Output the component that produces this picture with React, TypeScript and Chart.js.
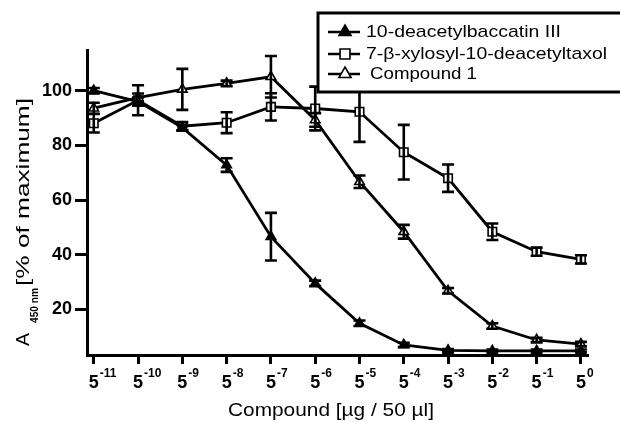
import React, { useEffect, useRef } from "react";
import { Chart, registerables } from "chart.js";

Chart.register(...registerables);

// ---- data ----
const exponents = [-11, -10, -9, -8, -7, -6, -5, -4, -3, -2, -1, 0];
const tickBase = "5";
const tickExps = ["-11", "-10", "-9", "-8", "-7", "-6", "-5", "-4", "-3", "-2", "-1", "0"];
const yTicks = [20, 40, 60, 80, 100];

const seriesNames = ["10-deacetylbaccatin III", "7-β-xylosyl-10-deacetyltaxol", "Compound 1"];

const baccatin = [100, 96, 86.5, 72.8, 46.6, 29.5, 14.9, 7.0, 5.0, 4.8, 4.8, 4.8];
const baccatinErr = [1, 1.5, 1, 2.5, 8.7, 1, 1, 0.8, 0.5, 0.5, 0.5, 0.5];

const xylosyl = [88.1, 96.5, 87, 88.3, 94.1, 93.5, 92.3, 77.5, 68.0, 48.4, 41.1, 38.3];
const xylosylErr = [3.4, 5.5, 1.5, 3.8, 5, 8, 11, 10, 5, 3, 1.5, 1.5];

const compound1 = [93.6, 97.5, 100.5, 102.7, 105.1, 89.3, 66.7, 48.4, 26.8, 13.9, 8.8, 7.3];
const compound1Err = [2, 1.5, 7.5, 1, 7.6, 2.5, 2.3, 2.5, 1, 1, 0.8, 0.8];

const xTitle = "Compound [µg / 50 µl]";
const yTitleMain = "A";
const yTitleSub = "450 nm";
const yTitleRest = "[% of maximum]";

const FONT = "'Liberation Sans', Arial, Helvetica, sans-serif";

function stretchText(
  ctx: CanvasRenderingContext2D,
  text: string,
  x: number,
  y: number,
  font: string,
  target?: number
) {
  ctx.save();
  ctx.font = font;
  const w = ctx.measureText(text).width;
  const sx = target ? target / w : 1;
  ctx.translate(x, y);
  ctx.scale(sx, 1);
  ctx.fillText(text, 0, 0);
  ctx.restore();
}

function drawMarker(ctx: CanvasRenderingContext2D, style: string, x: number, y: number, r: number, filled: boolean) {
  ctx.save();
  ctx.beginPath();
  if (style === "triangle") {
    const h = r * 1.5;
    const half = r * Math.sqrt(3) / 2;
    ctx.moveTo(x, y - r);
    ctx.lineTo(x + half, y - r + h);
    ctx.lineTo(x - half, y - r + h);
    ctx.closePath();
  } else {
    const s = r * Math.SQRT1_2;
    ctx.rect(x - s, y - s, 2 * s, 2 * s);
  }
  ctx.fillStyle = filled ? "#000" : "#fff";
  ctx.fill();
  ctx.lineWidth = 1.6;
  ctx.strokeStyle = "#000";
  ctx.stroke();
  ctx.restore();
}

const errorBarPlugin = {
  id: "errorBars",
  afterDatasetsDraw(chart: any) {
    const ctx = chart.ctx as CanvasRenderingContext2D;
    const yScale = chart.scales.y;
    ctx.save();
    ctx.strokeStyle = "#000";
    ctx.lineWidth = 2.6;
    chart.data.datasets.forEach((ds: any, di: number) => {
      const meta = chart.getDatasetMeta(di);
      const errs: number[] = ds.errors || [];
      meta.data.forEach((pt: any, i: number) => {
        const v = ds.data[i].y;
        const e = errs[i] || 0;
        if (!e) return;
        const x = pt.x;
        const yTop = yScale.getPixelForValue(v + e);
        const yBot = yScale.getPixelForValue(v - e);
        const cap = 6;
        ctx.beginPath();
        ctx.moveTo(x, yTop);
        ctx.lineTo(x, yBot);
        ctx.moveTo(x - cap, yTop);
        ctx.lineTo(x + cap, yTop);
        ctx.moveTo(x - cap, yBot);
        ctx.lineTo(x + cap, yBot);
        ctx.stroke();
      });
    });
    ctx.restore();
  },
};

const decorPlugin = {
  id: "decor",
  afterDraw(chart: any) {
    const ctx = chart.ctx as CanvasRenderingContext2D;
    const xScale = chart.scales.x;
    ctx.save();
    ctx.fillStyle = "#000";
    ctx.textBaseline = "alphabetic";
    ctx.textAlign = "left";

    // x tick labels: 5^n
    exponents.forEach((v, i) => {
      const px = xScale.getPixelForValue(v);
      ctx.font = `bold 18px ${FONT}`;
      const w = ctx.measureText(tickBase).width;
      ctx.fillText(tickBase, px - w / 2, 388);
      ctx.font = `bold 12px ${FONT}`;
      ctx.fillText(tickExps[i], px + w / 2 + 1, 377);
    });

    // x title
    stretchText(ctx, xTitle, 228, 416, `19px ${FONT}`, 206);

    // y title (rotated)
    ctx.save();
    ctx.rotate(-Math.PI / 2);
    stretchText(ctx, yTitleMain, -346, 29, `19px ${FONT}`, 13);
    stretchText(ctx, yTitleSub, -323, 38, `bold 11px ${FONT}`, 35);
    stretchText(ctx, yTitleRest, -286, 29, `19px ${FONT}`, 188);
    ctx.restore();

    // legend
    const bx = 318, by = 13, bw = 310, bh = 79;
    ctx.fillStyle = "#fff";
    ctx.fillRect(bx, by, bw, bh);
    ctx.strokeStyle = "#000";
    ctx.lineWidth = 3;
    ctx.strokeRect(bx, by, bw, bh);

    const rows = [
      { y: 32, style: "triangle", filled: true, tx: 366, tw: 195 },
      { y: 54, style: "rect", filled: false, tx: 366, tw: 241 },
      { y: 74, style: "triangle", filled: false, tx: 370, tw: 107 },
    ];
    rows.forEach((r, i) => {
      ctx.strokeStyle = "#000";
      ctx.lineWidth = 2.5;
      ctx.beginPath();
      ctx.moveTo(328, r.y);
      ctx.lineTo(360, r.y);
      ctx.stroke();
      drawMarker(ctx, r.style, 345, r.y, 7, r.filled);
      ctx.fillStyle = "#000";
      ctx.textBaseline = "middle";
      stretchText(ctx, seriesNames[i], r.tx, r.y, `17px ${FONT}`, r.tw);
    });
    ctx.restore();
  },
};

function makeDataset(label: string, vals: number[], errs: number[], style: string, filled: boolean) {
  return {
    label,
    data: exponents.map((x, i) => ({ x, y: vals[i] })),
    errors: errs,
    borderColor: "#000",
    backgroundColor: filled ? "#000" : "#fff",
    pointBackgroundColor: filled ? "#000" : "#fff",
    pointBorderColor: "#000",
    pointStyle: style,
    pointRadius: style === "rect" ? 6 : 5.5,
    pointBorderWidth: 1.6,
    borderWidth: 2.8,
    tension: 0,
    clip: false,
    fill: false,
  };
}

export default function App() {
  const ref = useRef<HTMLCanvasElement | null>(null);

  useEffect(() => {
    document.body.style.margin = "0";
    const canvas = ref.current;
    if (!canvas) return;
    const chart = new Chart(canvas, {
      type: "line",
      data: {
        datasets: [
          makeDataset(seriesNames[0], baccatin, baccatinErr, "triangle", true),
          makeDataset(seriesNames[1], xylosyl, xylosylErr, "rect", false),
          makeDataset(seriesNames[2], compound1, compound1Err, "triangle", false),
        ] as any,
      },
      options: {
        animation: false,
        responsive: false,
        devicePixelRatio: 1,
        layout: { padding: { left: 0, top: 50, right: 32, bottom: 0 } },
        plugins: {
          legend: { display: false },
          tooltip: { enabled: false },
          title: { display: false },
        },
        scales: {
          x: {
            type: "linear",
            min: -11.153,
            max: 0.16,
            afterBuildTicks: (s: any) => {
              s.ticks = exponents.map((v) => ({ value: v }));
            },
            afterFit: (s: any) => {
              s.height = 68;
            },
            ticks: { display: false },
            grid: {
              display: true,
              drawOnChartArea: false,
              drawTicks: true,
              tickLength: 9,
              tickWidth: 3,
              tickColor: "#000",
              color: "#000",
            },
            border: { display: true, color: "#000", width: 3 },
          },
          y: {
            type: "linear",
            min: 3.3,
            max: 114.9,
            afterBuildTicks: (s: any) => {
              s.ticks = yTicks.map((v) => ({ value: v }));
            },
            afterFit: (s: any) => {
              s.width = 87;
            },
            ticks: {
              color: "#000",
              font: { family: FONT, size: 18, weight: "bold" },
              padding: 3,
            },
            grid: {
              display: true,
              drawOnChartArea: false,
              drawTicks: true,
              tickLength: 12,
              tickWidth: 3,
              tickColor: "#000",
              color: "#000",
            },
            border: { display: true, color: "#000", width: 3 },
          },
        },
      } as any,
      plugins: [errorBarPlugin, decorPlugin],
    });
    return () => chart.destroy();
  }, []);

  return (
    <div style={{ position: "absolute", left: 0, top: 0, width: 620, height: 423, background: "#fff" }}>
      <canvas ref={ref} width={620} height={423} style={{ width: 620, height: 423, display: "block" }} />
    </div>
  );
}
